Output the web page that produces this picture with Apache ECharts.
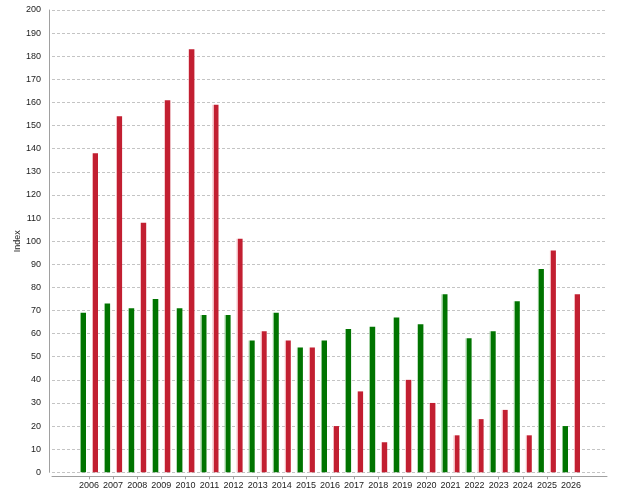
<!DOCTYPE html>
<html>
<head>
<meta charset="utf-8">
<script src="https://cdn.jsdelivr.net/npm/echarts@6/dist/echarts.min.js"></script>
<style>html,body{margin:0;padding:0;background:#fff}#c{width:620px;height:500px}</style>
</head>
<body>
<div id="c"></div>
<script>
var categories = ['2006','2007','2008','2009','2010','2011','2012','2013','2014','2015','2016','2017','2018','2019','2020','2021','2022','2023','2024','2025','2026'];
var greenValues = [69,73,71,75,71,68,68,57,69,54,57,62,63,67,64,77,58,61,74,88,20];
var redValues = [138,154,108,161,183,159,101,61,57,54,20,35,13,40,30,16,23,27,16,96,77];
var yTicks = {min:0, max:200, interval:10};

var chart = echarts.init(document.getElementById('c'), null, {renderer:'canvas'});
var font = 'Liberation Sans, Arial, sans-serif';
function grad(light, main){
  return new echarts.graphic.LinearGradient(0,0,1,0,[
    {offset:0,color:light},{offset:0.17,color:light},{offset:0.18,color:main},{offset:1,color:main}]);
}
chart.setOption({
  animation:false,
  backgroundColor:'#fff',
  grid:[
    {left:52, right:13, top:10, bottom:27.7},
    {left:76.95, right:36.95, top:10, bottom:27.7}
  ],
  xAxis:[
    {gridIndex:0, type:'value', min:0, max:1, offset:4,
     axisLine:{show:true, onZero:false, lineStyle:{color:'#a0a0a0', width:1}},
     axisTick:{show:false}, axisLabel:{show:false}, splitLine:{show:false}},
    {gridIndex:1, type:'category', data:categories, boundaryGap:true, offset:4,
     axisLine:{show:false, onZero:false},
     axisTick:{show:true, alignWithLabel:true, length:3, lineStyle:{color:'#a0a0a0'}},
     axisLabel:{margin:5, fontSize:9, color:'#222', fontFamily:font, interval:0}}
  ],
  yAxis:[
    {gridIndex:0, type:'value', min:yTicks.min, max:yTicks.max, interval:yTicks.interval, offset:3,
     name:'Index', nameLocation:'middle', nameRotate:90, nameGap:27, nameMoveOverlap:false,
     nameTextStyle:{fontSize:9, color:'#222', fontFamily:font},
     axisLine:{show:true, onZero:false, lineStyle:{color:'#a0a0a0', width:1}},
     axisTick:{show:false},
     axisLabel:{margin:8, fontSize:9, color:'#222', fontFamily:font},
     splitLine:{show:true, lineStyle:{color:'#c4c4c4', type:[3,2], width:1}}},
    {gridIndex:1, type:'value', min:yTicks.min, max:yTicks.max, interval:yTicks.interval, show:false, splitLine:{show:false}}
  ],
  series:[
    {type:'bar', xAxisIndex:1, yAxisIndex:1, data:greenValues, barWidth:6, barGap:'100%',
     itemStyle:{color:grad('#8fc88f','#007400')}},
    {type:'bar', xAxisIndex:1, yAxisIndex:1, data:redValues, barWidth:6, barGap:'100%',
     itemStyle:{color:grad('#f2b8be','#c21f31')}}
  ]
});
</script>
</body>
</html>
